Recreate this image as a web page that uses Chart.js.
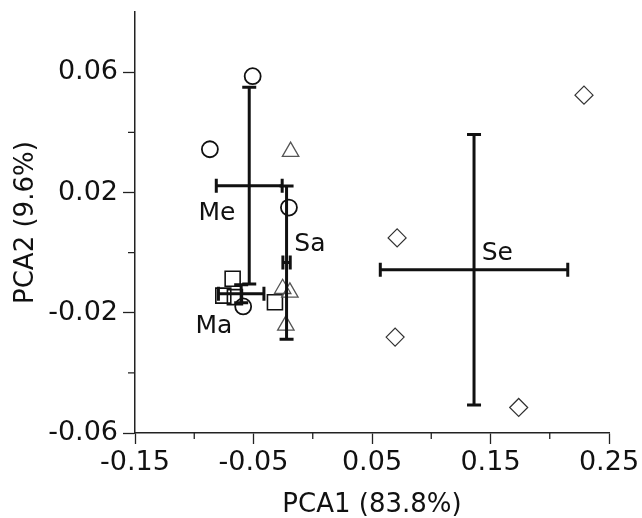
<!DOCTYPE html>
<html>
<head>
<meta charset="utf-8">
<script src="https://cdn.jsdelivr.net/npm/chart.js@4.4.1/dist/chart.umd.min.js"></script>
<style>
  html, body { margin: 0; padding: 0; background: #fff; }
  #wrap { width: 642px; height: 518px; position: relative; }
</style>
</head>
<body>
<div id="wrap"><canvas id="pcaChart"></canvas></div>
<script>
// group names (labels drawn on the plot)
const groupNames = ['Me', 'Sa', 'Ma', 'Se'];

// group means and spread (error bars)
const meanX = [-0.0536, -0.0221, -0.0604, 0.1361];
const meanY = [0.0223, -0.0033, -0.0137, -0.0057];
const errX = [0.0278, 0.0031, 0.0192, 0.0791];
const errY = [0.0327, 0.0255, 0.0030, 0.0450];

// where each group name sits
const labelX = [-0.0808, -0.0024, -0.0834, 0.1557];
const labelY = [0.0129, 0.0027, -0.0245, -0.0002];

// individual samples
const meX = [-0.0507, -0.0868, -0.0201, -0.0587];
const meY = [0.0587, 0.0344, 0.0150, -0.0179];
const saX = [-0.0187, -0.0254, -0.0193, -0.0227];
const saY = [0.0336, -0.0120, -0.0132, -0.0242];
const maX = [-0.0676, -0.0755, -0.0657, -0.0319];
const maY = [-0.0087, -0.0143, -0.0148, -0.0165];
const seX = [0.2289, 0.0712, 0.0695, 0.1738];
const seY = [0.0524, 0.0049, -0.0281, -0.0515];

// axis ticks
const xTicks = [-0.15, -0.05, 0.05, 0.15, 0.25];
const xMinorTicks = [-0.1, 0, 0.1, 0.2];
const yTicks = [-0.06, -0.02, 0.02, 0.06];
const yMinorTicks = [-0.04, 0, 0.04];

const toPoints = (xs, ys) => xs.map((x, i) => ({ x: x, y: ys[i] }));

// error bars, minor ticks and group names
const extrasPlugin = {
    id: 'extras',
    afterDatasetsDraw(chart) {
        const ctx = chart.ctx;
        const xs = chart.scales.x;
        const ys = chart.scales.y;
        const cap = 7;
        ctx.save();
        ctx.strokeStyle = '#111';
        ctx.lineWidth = 3;
        ctx.lineCap = 'butt';
        groupNames.forEach((name, i) => {
            const cx = xs.getPixelForValue(meanX[i]);
            const cy = ys.getPixelForValue(meanY[i]);
            const x1 = xs.getPixelForValue(meanX[i] - errX[i]);
            const x2 = xs.getPixelForValue(meanX[i] + errX[i]);
            const y1 = ys.getPixelForValue(meanY[i] + errY[i]);
            const y2 = ys.getPixelForValue(meanY[i] - errY[i]);
            ctx.beginPath();
            ctx.moveTo(x1, cy); ctx.lineTo(x2, cy);
            ctx.moveTo(x1, cy - cap); ctx.lineTo(x1, cy + cap);
            ctx.moveTo(x2, cy - cap); ctx.lineTo(x2, cy + cap);
            ctx.moveTo(cx, y1); ctx.lineTo(cx, y2);
            ctx.moveTo(cx - cap, y1); ctx.lineTo(cx + cap, y1);
            ctx.moveTo(cx - cap, y2); ctx.lineTo(cx + cap, y2);
            ctx.stroke();
        });

        // group names
        ctx.fillStyle = '#111';
        ctx.font = '25px "DejaVu Sans"';
        ctx.textAlign = 'center';
        ctx.textBaseline = 'middle';
        groupNames.forEach((name, i) => {
            ctx.fillText(name, xs.getPixelForValue(labelX[i]), ys.getPixelForValue(labelY[i]));
        });

        // minor ticks
        ctx.lineWidth = 1.3;
        ctx.strokeStyle = '#222';
        ctx.beginPath();
        xMinorTicks.forEach(v => {
            const px = xs.getPixelForValue(v);
            ctx.moveTo(px, xs.top); ctx.lineTo(px, xs.top + 6);
        });
        yMinorTicks.forEach(v => {
            const py = ys.getPixelForValue(v);
            ctx.moveTo(ys.right, py); ctx.lineTo(ys.right - 7, py);
        });
        ctx.stroke();
        ctx.restore();
    }
};

const ctx = document.getElementById('pcaChart').getContext('2d');
new Chart(ctx, {
    type: 'scatter',
    data: {
        datasets: [
            {
                label: 'Me',
                data: toPoints(meX, meY),
                pointStyle: 'circle',
                pointRadius: 8,
                borderColor: '#111',
                backgroundColor: 'rgba(0,0,0,0)',
                borderWidth: 1.8
            },
            {
                label: 'Sa',
                data: toPoints(saX, saY),
                pointStyle: 'triangle',
                pointRadius: 9.5,
                borderColor: '#555',
                backgroundColor: 'rgba(0,0,0,0)',
                borderWidth: 1.3
            },
            {
                label: 'Ma',
                data: toPoints(maX, maY),
                pointStyle: 'rect',
                pointRadius: 10.6,
                borderColor: '#111',
                backgroundColor: 'rgba(0,0,0,0)',
                borderWidth: 1.6
            },
            {
                label: 'Se',
                data: toPoints(seX, seY),
                pointStyle: 'rectRot',
                pointRadius: 9,
                borderColor: '#333',
                backgroundColor: 'rgba(0,0,0,0)',
                borderWidth: 1.2
            }
        ]
    },
    options: {
        responsive: true,
        maintainAspectRatio: false,
        animation: false,
        layout: {
            padding: { top: 12, right: 33, left: 0, bottom: 0 }
        },
        plugins: {
            legend: { display: false },
            tooltip: { enabled: false }
        },
        scales: {
            x: {
                type: 'linear',
                min: -0.15,
                max: 0.25,
                afterBuildTicks: scale => { scale.ticks = xTicks.map(v => ({ value: v })); },
                afterFit: scale => {
                    scale.height = 85;
                    scale.paddingLeft = 0;
                    scale.paddingRight = 0;
                },
                border: { color: '#222', width: 1.5 },
                grid: { drawOnChartArea: false, drawTicks: true, tickLength: 11, tickColor: '#222', tickWidth: 1.3 },
                ticks: {
                    color: '#111',
                    padding: 3,
                    maxRotation: 0,
                    font: { family: 'DejaVu Sans', size: 27 },
                    callback: v => v.toFixed(2)
                },
                title: {
                    display: true,
                    text: 'PCA1 (83.8%)',
                    color: '#111',
                    font: { family: 'DejaVu Sans', size: 26 },
                    padding: { top: 0, bottom: -3 }
                }
            },
            y: {
                type: 'linear',
                min: -0.06,
                max: 0.08,
                afterBuildTicks: scale => { scale.ticks = yTicks.map(v => ({ value: v })); },
                afterFit: scale => {
                    scale.width = 135;
                    scale.paddingTop = 0;
                    scale.paddingBottom = 0;
                },
                border: { color: '#222', width: 1.5 },
                grid: { drawOnChartArea: false, drawTicks: true, tickLength: 12, tickColor: '#222', tickWidth: 1.3 },
                ticks: {
                    color: '#111',
                    padding: 5,
                    font: { family: 'DejaVu Sans', size: 27 },
                    callback: v => v.toFixed(2)
                },
                title: {
                    display: true,
                    text: 'PCA2 (9.6%)',
                    color: '#111',
                    font: { family: 'DejaVu Sans', size: 26 },
                    padding: { top: 11, bottom: 0 }
                }
            }
        }
    },
    plugins: [extrasPlugin]
});
</script>
</body>
</html>
